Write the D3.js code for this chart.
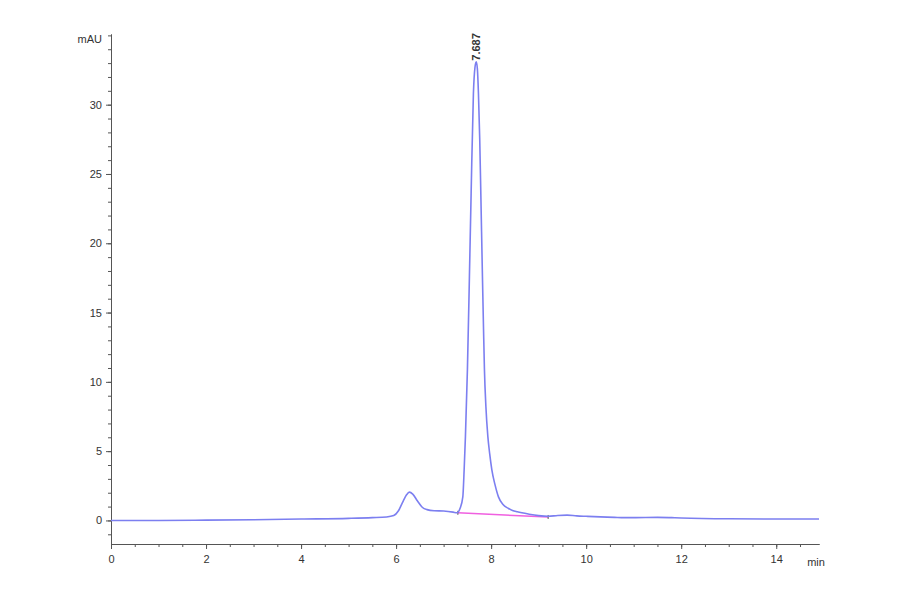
<!DOCTYPE html>
<html>
<head>
<meta charset="utf-8">
<script src="https://cdn.jsdelivr.net/npm/d3@7"></script>
<style>
  body { margin: 0; background: #fff; }
  svg { display: block; font-family: "Liberation Sans", Arial, sans-serif; }
</style>
</head>
<body>
<svg id="chart"></svg>
<script>
// retention time (min) and absorbance (mAU)
const times = [0, 1, 2, 3, 4, 5, 5.5, 5.8, 5.95, 6.05, 6.15, 6.22, 6.28, 6.35, 6.45, 6.55, 6.65, 6.8, 7.0, 7.2, 7.28,
  7.347, 7.404, 7.432, 7.459, 7.501, 7.543, 7.579, 7.627, 7.66, 7.687, 7.71, 7.733, 7.76, 7.783, 7.817, 7.84, 7.859,
  7.89, 7.931, 7.97, 8.015, 8.08, 8.154, 8.25, 8.358, 8.45, 8.55, 8.8, 9.0, 9.2, 9.4, 9.6, 9.8, 10.0, 10.3, 10.6,
  10.8, 11.0, 11.5, 11.8, 12.0, 13, 14, 14.9];
const mAU = [0, 0, 0.02, 0.05, 0.1, 0.15, 0.2, 0.25, 0.35, 0.7, 1.4, 1.85, 2.04, 1.9, 1.4, 0.95, 0.78, 0.7, 0.68, 0.6, 0.55,
  0.88, 1.7, 3.65, 6.05, 10.9, 17.6, 23.6, 30.8, 32.7, 33.1, 32.6, 30.8, 27.5, 23.6, 17.6, 13.8, 10.9,
  8.2, 6.05, 4.8, 3.65, 2.6, 1.7, 1.15, 0.88, 0.72, 0.62, 0.45, 0.35, 0.3, 0.36, 0.38, 0.33, 0.3, 0.26, 0.22,
  0.2, 0.2, 0.22, 0.2, 0.18, 0.12, 0.1, 0.1];

// integration baseline under the main peak
const baseTimes = [7.3, 9.2];
const baseValues = [0.55, 0.25];

const peakLabel = "7.687";
const peakTime = 7.687;
const peakValue = 33.1;

const xTicks = [0, 2, 4, 6, 8, 10, 12, 14];
const yTicks = [0, 5, 10, 15, 20, 25, 30];

const width = 900;
const height = 594;
const margin = { top: 34, right: 81, bottom: 50, left: 111 };

const svg = d3.select("#chart").attr("width", width).attr("height", height);

const x = d3.scaleLinear().domain([0, 14.9]).range([margin.left, width - margin.right]);
const y = d3.scaleLinear().domain([-1.7, 35.1]).range([height - margin.bottom, margin.top]);

const axisColor = "#555";
const textColor = "#333";

// minor ticks
const xMinor = d3.range(0, 14.9, 0.5);
const yMinor = d3.range(-1, 35.1, 1);

const xAxis = svg.append("g").attr("transform", `translate(0, ${y(-1.7)})`);
xAxis.call(d3.axisBottom(x).tickValues(xMinor).tickSize(3).tickFormat("").tickSizeOuter(0));
xAxis.append("g").call(d3.axisBottom(x).tickValues(xTicks).tickSize(5).tickSizeOuter(0).tickPadding(6));
xAxis.selectAll("path, line").attr("stroke", axisColor);
xAxis.selectAll("text").attr("fill", textColor).attr("font-size", 11);

const yAxis = svg.append("g").attr("transform", `translate(${x(0)}, 0)`);
yAxis.call(d3.axisLeft(y).tickValues(yMinor).tickSize(3).tickFormat("").tickSizeOuter(0));
yAxis.append("g").call(d3.axisLeft(y).tickValues(yTicks).tickSize(5).tickSizeOuter(0).tickPadding(4));
yAxis.selectAll("path, line").attr("stroke", axisColor);
yAxis.selectAll("text").attr("fill", textColor).attr("font-size", 11);

svg.append("text")
  .attr("x", x(0) - 9)
  .attr("y", y(35.1) + 9)
  .attr("text-anchor", "end")
  .attr("font-size", 11)
  .attr("fill", textColor)
  .text("mAU");

svg.append("text")
  .attr("x", x(14.9) - 3)
  .attr("y", y(-1.7) + 22)
  .attr("text-anchor", "middle")
  .attr("font-size", 11)
  .attr("fill", textColor)
  .text("min");

// baseline
const baseData = baseTimes.map((t, i) => ({ t, v: baseValues[i] }));
svg.append("path")
  .datum(baseData)
  .attr("fill", "none")
  .attr("stroke", "#f060e0")
  .attr("stroke-width", 1.5)
  .attr("d", d3.line().x((d) => x(d.t)).y((d) => y(d.v)));

svg.selectAll(".base-mark")
  .data(baseData)
  .enter()
  .append("line")
  .attr("class", "base-mark")
  .attr("x1", (d) => x(d.t))
  .attr("x2", (d) => x(d.t))
  .attr("y1", (d) => y(d.v) - 2)
  .attr("y2", (d) => y(d.v) + 2)
  .attr("stroke", "#555")
  .attr("stroke-width", 1);

// chromatogram trace
const trace = times.map((t, i) => ({ t, v: mAU[i] }));
svg.append("path")
  .datum(trace)
  .attr("fill", "none")
  .attr("stroke", "#7c7ff0")
  .attr("stroke-width", 1.6)
  .attr("d", d3.line().curve(d3.curveMonotoneX).x((d) => x(d.t)).y((d) => y(d.v)));

svg.append("text")
  .attr("transform", `translate(${x(peakTime) + 4}, ${y(peakValue) - 1}) rotate(-90)`)
  .attr("text-anchor", "start")
  .attr("font-size", 11)
  .attr("font-weight", "bold")
  .attr("fill", "#333")
  .text(peakLabel);
</script>
</body>
</html>
